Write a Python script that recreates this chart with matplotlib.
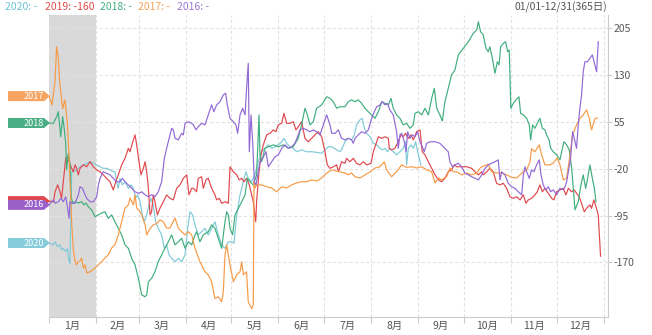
import matplotlib
matplotlib.use("Agg")
import matplotlib.pyplot as plt
import matplotlib.transforms as mtransforms
from matplotlib.patches import Polygon

plt.rcParams['font.family'] = ['Noto Sans CJK SC', 'DejaVu Sans']

# ---- data: (day of year, value) ----
s2020 = [(0,-139),(2.9,-142),(4,-137),(5.7,-145),(7.2,-142),(8.3,-150),(9.4,-147.5),(11,-153),(12.1,-147.5),(13.2,-169),(13.8,-171.5),(14.9,-25),(16,-25),(18.2,-22),(20.4,-17),(22.6,-14),(24.8,-11.5),(27,-9),(29.2,-11.5),(31.4,-14),(33.6,-17),(35.7,-19.5),(37.9,-19.5),(40.1,-22),(42.3,-25),(43.4,-25),(44.5,-41),(45.6,-51.5),(46.7,-35.5),(48.3,-46),(50,-41),(52.2,-51.5),(54,-46),(55.5,-51.5),(57,-67.5),(58.3,-62),(59.9,-73),(61.4,-94),(62.7,-105),(64.3,-94),(65.8,-78),(67.1,-67.5),(68.6,-78),(70.2,-105),(71.9,-115.5),(74.1,-126),(75.9,-147.5),(77.4,-142),(79,-158),(80.7,-163.5),(82.9,-169),(85.1,-163.5),(87.3,-169),(89.5,-158),(91.2,-115.5),(92.8,-89),(94.5,-94),(96,-110),(98.2,-126),(100.4,-121),(102.6,-115.5),(104.8,-126),(107,-115.5),(109.2,-105),(111.4,-126),(113.6,-142),(115.8,-147.5),(118,-137),(120.2,-137),(121.7,-139.5),(123.5,-94),(125.7,-62),(127.8,-41),(129.6,-25),(131.1,-35.5),(133.3,-41),(135.5,-30),(137.7,-9),(139.9,7),(142.1,12.5),(144.3,18),(146.5,12.5),(148.7,15),(150.9,18),(153.1,23),(154.6,28.5),(156.4,20.5),(158.6,15),(160.7,12.5),(162.9,7),(166.2,10),(169.5,7),(172.8,7),(176.1,6),(179.4,4.5),(181.6,10),(183.8,15),(186,15),(189.3,10),(191.4,7),(192.5,10),(194.7,23),(196.9,28.5),(199.1,26),(200.9,34),(202.4,50),(204.6,58),(206.1,60.5),(207.5,44.5),(209,36.5),(211.2,31),(213.4,20.5),(215.6,18),(217.8,12.5),(219.3,10),(221.1,12.5),(222.6,7),(224.3,12.5),(226.5,7),(228.7,2),(230.9,7),(233.1,12.5),(234.6,23),(235.3,-14),(236.4,12.5),(238.2,18),(239.7,12.5),(241.2,23),(243,2),(244.7,-14)]

s2019 = [(0,-72),(2.9,-73),(4,-57),(5.7,-46),(7.2,-57),(8.3,-67.5),(9.9,-30),(11,-3.5),(12.1,-1),(13.2,-9),(14.9,-19.5),(16,-25),(17.1,-14),(18.2,-19.5),(19.3,-30),(20.4,-19.5),(22.6,-14),(24.8,-17),(27,-9),(29.2,-17),(31.4,-22),(33.6,-25),(35.7,-30),(37.9,-35.5),(40.1,-41),(42.3,-54),(43.9,-41),(45.6,-30),(47.8,-14),(50,-3.5),(52.2,12.5),(53.3,7),(54.8,20.5),(56.6,34),(57.7,18),(59.2,-9),(60.5,-30),(62.1,-19.5),(63.2,-9),(64.3,-25),(65.4,-51.5),(66.5,-94),(67.5,-89),(68.6,-62),(69.7,-73),(71.3,-94),(73,-83.5),(75.2,-73),(77.4,-62),(79.6,-67.5),(81.8,-70),(84,-51.5),(86.2,-46),(88.4,-35.5),(90.6,-30),(92.1,-62),(93.9,-51.5),(95,-51.5),(97.1,-57),(98.2,-35.5),(100.4,-33),(101.5,-51.5),(103.3,-38),(104.8,-35.5),(107,-51.5),(109.2,-62),(110.3,-70),(112.1,-67.5),(113.6,-75.5),(115.8,-73),(118,-75.5),(119.1,-17),(121.3,-25),(123.5,-30),(125.2,-38),(126.8,-35.5),(128.3,-41),(130,-35.5),(131.8,-46),(133.3,-62),(134.4,-73),(136,-105),(136.6,-73),(138.2,-25),(139.5,2),(141,18),(143.2,34),(145.4,36.5),(147.6,42),(149.3,39),(150.9,50),(153.1,52.5),(154.6,68.5),(156.4,52.5),(158.6,52.5),(160.7,55),(162.5,42),(164,47),(166.2,55),(168.4,28.5),(170.6,23),(172.8,28.5),(175,34),(177.2,39),(179.4,31),(181.6,7),(183.1,-14),(184.9,-19.5),(187.1,-17),(189.3,-14),(190.4,-25),(192.5,-9),(194.7,-11.5),(195.8,-3.5),(198,-9),(200.2,-3.5),(202.4,-11.5),(204.6,-14),(206.8,-9),(209,-14),(211.9,-11.5),(213.4,7),(215.6,23),(216.7,31),(218.9,28.5),(221.1,31),(223.3,28.5),(223.9,12.5),(225.4,10),(227.6,12.5),(229.8,23),(231.6,34),(233.1,31),(234.6,36.5),(236.4,28.5),(238.2,34),(239.7,26),(241.9,39),(244.1,42),(245.6,7),(247.4,2),(249.6,-9),(251.8,-19.5),(254,-30),(256.2,-38),(258.3,-41),(260.5,-35.5),(262.7,-25),(264.9,-22),(266.7,-14),(268.2,-17),(271.5,-17),(274.8,-17),(278.1,-19.5),(280.3,-25),(282.5,-30),(284.7,-25),(285.7,-30),(288,-25),(290.1,-19.5),(292.3,-25),(294.5,-43.5),(296.7,-46),(298.9,-43.5),(301.1,-51.5),(303.3,-65),(305.5,-67.5),(307.7,-65),(309.9,-70),(312.1,-62),(313.8,-75.5),(315.4,-70),(317.5,-67.5),(319.7,-62),(321.3,-57),(323,-46),(324.6,-57),(326.3,-51.5),(328.5,-59.5),(330.7,-67.5),(332.2,-70),(334,-57),(336.2,-54),(338.4,-51.5),(340.1,-62),(341.7,-51.5),(343.9,-57),(345.6,-54),(347.1,-59.5),(348.9,-65),(350.4,-75.5),(352.2,-89),(353.7,-83.5),(355.9,-78),(357,-83.5),(358.5,-70),(359.9,-81),(361.4,-94),(362.9,-160)]

s2018 = [(0,53),(2.9,52.5),(5,63),(6.1,71),(7.7,31),(9,63),(10.1,42),(11,20),(11.6,-22),(12.7,4.5),(13.8,-11.5),(14.5,-65),(15.6,-75),(17.1,-73),(19.3,-75),(21.5,-73),(23,-78),(24.3,-75),(25.9,-81),(28,-86),(30.3,-97),(32.5,-94),(34.6,-91),(36.8,-89),(39,-99.5),(41.2,-94),(43.4,-105),(45.6,-115.5),(47.8,-126),(50,-142),(52.2,-147.5),(54.4,-163.5),(56.6,-174),(58.8,-195.5),(61,-222),(63.2,-225),(64.3,-222),(65.4,-201),(67.5,-195.5),(69.7,-185),(71.9,-169),(74.1,-158),(76.3,-147.5),(78.5,-137),(80.7,-126),(82.9,-142),(85.1,-137),(87.3,-131.5),(89.5,-147.5),(91.7,-137),(93.9,-142),(96.1,-126),(97.1,-121),(99.3,-137),(101.5,-126),(104.8,-121),(107,-110),(109.2,-115.5),(111.4,-131.5),(113.6,-147.5),(115.8,-105),(116.9,-89),(118,-94),(119.1,-115.5),(120.8,-126),(122.4,-94),(124.6,-83.5),(126.8,-73),(129,-62),(130.5,-35.5),(132.2,-41),(134.4,-46),(136.6,-30),(138.2,66),(138.8,2),(139.9,-9),(142.1,12.5),(144.3,15),(147.6,18),(150.9,15),(154.2,18),(157.5,12.5),(160.7,15),(164,28.5),(166.2,50),(168.4,76.5),(170,66),(171.7,50),(173.9,55),(176.1,76.5),(179.4,82),(182.7,95),(184.9,92.5),(187.1,87),(189.3,76.5),(191.4,79),(194.7,79),(196.9,87),(199.1,90),(201.3,87),(203.5,90),(205.7,84.5),(207.9,76.5),(210.1,71),(212.3,66),(214.5,60.5),(216.7,71),(218.9,87),(221.1,84.5),(223.3,82),(225,92.5),(226.5,76.5),(228.7,66),(230.9,60.5),(233.1,50),(235.3,52.5),(237.5,44.5),(239.7,50),(240.8,68.5),(243,71),(245.2,66),(247.4,76.5),(249.6,66),(251.8,92.5),(253.5,108.5),(255.1,76.5),(257.2,66),(258.8,56),(260.5,87),(262.7,108.5),(264.9,130),(267.1,138),(269.3,162),(272.6,172.5),(275.9,183),(279.2,196.5),(281.4,202),(282.5,215),(284,199),(285.7,194),(287.5,172.5),(289,167),(290.1,175),(291.7,156.5),(293.4,132.5),(295,151),(296.1,146),(297.2,175),(298.9,180.5),(300.4,183),(301.8,167),(302.8,170),(303.9,76.5),(305.5,84.5),(307.2,90),(309.2,95),(310.3,68.5),(312.1,66),(314.3,60.5),(316,50),(316.9,26),(318.2,50),(319.7,44.5),(321.3,52.5),(323,60.5),(324.6,44.5),(326.3,42),(327.4,34),(329,26),(330.1,12.5),(331.8,7),(334,2),(336.2,-6),(337.3,7),(338.8,23),(340.6,18),(342.3,10),(343.9,-19.5),(346.1,-86),(348.2,-73),(350,-46),(351.5,-30),(353.1,-51.5),(354.4,-35.5),(355.9,-14),(357.5,-35.5),(358.8,-51.5),(359.9,-73)]

s2017 = [(0,96),(2,82),(4,120),(5,175),(6,160),(7,119),(9,76),(10.5,90),(12,55),(13,10),(14,-50),(15,-110),(16,-150),(17,-166),(18,-174),(19.3,-169),(20.4,-168),(21.5,-163),(22.6,-179),(23.7,-174),(24.8,-187),(27,-185),(30.3,-179),(34.6,-169),(36.8,-163),(39,-158),(41.2,-147),(43.4,-142),(45.6,-126),(47.8,-105),(50,-83),(52.2,-78),(53.3,-67),(55.5,-78),(56.6,-62),(57.7,-83),(59.9,-89),(61,-94),(63.2,-110),(64.3,-126),(66.5,-116),(68.6,-110),(70.8,-108),(73,-102),(75.2,-105),(77.4,-115),(79.6,-115),(82.9,-99),(85.1,-115),(87.3,-121),(89.5,-126),(91.7,-121),(93.9,-126),(96,-147),(99.3,-169),(102.6,-185),(104.8,-190),(107,-201),(109.2,-228),(111.4,-225),(113.6,-233),(114.7,-217),(115.8,-158),(116.9,-142),(119.1,-174),(121.3,-201),(123.5,-190),(125.7,-185),(126.8,-169),(127.9,-190),(130,-185),(131.1,-233),(133.3,-244),(134.4,-238),(134.9,-41),(135.5,-51),(136.6,-46),(139.9,-46),(143.2,-49),(146.5,-51),(149.8,-57),(153.1,-49),(156.4,-51),(159.6,-46),(162.9,-43),(166.2,-41),(169.5,-41),(172.8,-38),(176.1,-40),(179.4,-35),(182.7,-27),(186,-22),(189.3,-24),(191.4,-25),(194.7,-27),(196.9,-30),(199.1,-27),(201.3,-33),(204.6,-35),(207.9,-30),(211.2,-25),(214.5,-19),(217.8,-17),(220.6,-9),(222.2,-22),(225.4,-33),(228.7,-25),(232,-14),(235.3,-18),(238.6,-17),(241.9,-19),(245.2,-17),(248.5,-22),(251.8,-25),(254,-43),(256.2,-35),(258.3,-38),(261.6,-33),(263.8,-19),(266,-25),(268.2,-25),(271.5,-30),(274.8,-27),(278.1,-30),(281.4,-27),(284,-18),(286.8,-15),(289,-13),(291.2,-25),(294.5,-27),(297.8,-27),(301.1,-30),(304.4,-34),(307.7,-35),(309.9,-30),(312.1,-25),(314.3,-22),(316.5,-9),(317.5,12),(319.7,7),(322.6,18),(324.1,2),(326.3,-14),(329.6,-14),(331.8,-11),(334.4,-3),(336.2,-14),(338.4,-38),(340.6,-35),(342.8,2),(344.5,34),(347.1,50),(349.3,60),(351.5,66),(353.7,74),(355.5,60),(357,42),(359.2,60),(360.7,61)]

s2016 = [(0,-78),(2.9,-70),(4,-75.5),(6.1,-73),(7.9,-67.5),(9.4,-73),(11,-65),(12.3,-83.5),(13.2,-99.5),(13.8,-73),(14.9,-75.5),(17.1,-75.5),(19.3,-62),(20.4,-49),(22,-51.5),(23.3,-59.5),(24.8,-67.5),(27,-73),(29.2,-73),(31.4,-65),(32.5,-46),(33.6,-35.5),(35.7,-25),(37.9,-27.5),(40.1,-30),(42.3,-35.5),(44.5,-41),(46.7,-41),(48.3,-35.5),(50,-41),(52.2,-46),(54.4,-51.5),(56.6,-57),(58.8,-59.5),(61,-57),(63.2,-62),(65.4,-65),(67.5,-62),(69.7,-65),(71.9,-57),(74.1,-41),(75.9,-3.5),(77.4,12.5),(79.6,34),(80.7,44.5),(81.8,42),(82.9,28.5),(85.1,26),(87.3,36.5),(88.4,34),(89.5,52.5),(91.7,55),(93.9,52.5),(95,50),(96.7,42),(98.2,47),(100.4,52.5),(102.6,50),(104.8,66),(107,82),(108.5,71),(110.3,82),(112.5,87),(114.7,98),(116.2,100.5),(117.3,82),(119.1,60.5),(121.3,55),(123,50),(124.1,36.5),(125.7,66),(127.4,76.5),(129,66),(130,108.5),(131.1,148.5),(131.8,7),(132.9,66),(134,23),(135.1,-41),(136.2,-46),(137.3,-30),(138.8,-9),(140.6,-3.5),(142.8,7),(144.3,-17),(146.5,-9),(148.7,-1),(150.9,2),(153.1,12.5),(155.3,18),(157.5,12.5),(159.6,15),(161.8,20.5),(164,34),(165.1,42),(167.3,44.5),(169.5,42),(171.7,39),(173.9,42),(176.1,39),(178.3,34),(180.5,50),(182.7,66),(184.9,50),(186,36.5),(188.2,36.5),(190.4,42),(192.5,28.5),(194.7,26),(196.9,28.5),(199.1,26),(200.2,20.5),(201.3,28.5),(203.5,34),(205.7,39),(207.9,36.5),(210.1,42),(212.3,60.5),(214,71),(215.6,79),(217.8,82),(219.3,87),(221.1,82),(222.6,84.5),(224.3,74),(226.5,66),(228.7,39),(229.8,12.5),(230.9,34),(232,36.5),(233.8,23),(234.9,7),(236,39),(237.5,28.5),(239,34),(240.8,31),(242.5,39),(244.1,23),(245.6,15),(246.9,7),(248.5,20.5),(250.7,23),(254,23),(257.2,20.5),(260.5,12.5),(262.7,7),(263.8,-9),(265.4,-17),(267.1,-14),(269.3,-11.5),(271.5,-17),(273.7,-27.5),(275.9,-30),(278.1,-33),(280.3,-35.5),(282.5,-38),(284.7,-30),(286.8,-20),(289,-14),(291.2,-11.5),(293.4,-9),(295.6,-6),(296.7,-38),(297.8,-25),(300,-30),(302.2,-43.5),(304.4,-49),(306.6,-51.5),(308.8,-57),(311,-62),(312.1,-30),(313.2,-17),(314.3,-25),(316,-35.5),(317.5,-22),(319.1,-25),(320.8,-14),(322.6,-6),(323.7,-30),(325.2,-46),(326.8,-54),(328.5,-49),(330.1,-57),(331.8,-54),(334,-62),(336.2,-51.5),(338.4,-54),(339.5,-49),(340.6,-41),(341.7,-25),(343.2,-3.5),(344.5,39),(345.6,28.5),(347.1,12.5),(348.2,50),(349.3,76.5),(350.4,98),(351.5,135),(352.6,151),(354.2,151),(355.9,156.5),(357.5,162),(359.2,146),(360.3,135),(361.4,183)]

years = ['2020', '2019', '2018', '2017', '2016']
latest = ['-', '-160', '-', '-', '-']
line_colors = ['#7fcad8', '#e0474c', '#3fae7e', '#f79a45', '#9268d6']
tag_colors = ['#86ccdb', '#e0474c', '#4aae84', '#f7a462', '#9a5fc8']
text_colors = ['#6bc3d4', '#e04a4a', '#3fae7e', '#f2a25a', '#9b78d6']
series = [s2020, s2019, s2018, s2017, s2016]

month_starts = [0, 31, 59, 90, 120, 151, 181, 212, 243, 273, 304, 334, 365]
month_labels = ['1月', '2月', '3月', '4月', '5月', '6月', '7月', '8月', '9月', '10月', '11月', '12月']
y_ticks = [205, 130, 55, -20, -95, -170]

W, H = 652, 335
fig = plt.figure(figsize=(W / 100, H / 100), dpi=100)
ax = fig.add_axes([49 / W, 1 - 317 / H, 559 / W, 302 / H])
ax.set_xlim(0, 367.8)
ax.set_ylim(-257.4, 225.8)

# January band
ax.axvspan(month_starts[0], month_starts[1], color='#d9d9d9', lw=0, zorder=0)

# grid
for m in month_starts[1:]:
    ax.axvline(m, color='#e2e2e2', lw=0.8, ls=(0, (3, 2)), zorder=0.5)
for t in y_ticks:
    ax.axhline(t, color='#e2e2e2', lw=0.8, ls=(0, (3, 2)), zorder=0.5)

# series lines
for s, c in zip(series, line_colors):
    xs = [p[0] for p in s]
    ys = [p[1] for p in s]
    ax.plot(xs, ys, color=c, lw=0.85, zorder=3)

# axes styling
for side in ['top', 'left']:
    ax.spines[side].set_visible(False)
for side in ['right', 'bottom']:
    ax.spines[side].set_color('#cccccc')
    ax.spines[side].set_linewidth(0.8)

ax.yaxis.tick_right()
ax.set_yticks(y_ticks)
ax.set_yticklabels([str(t) for t in y_ticks])
ax.tick_params(axis='y', length=3, color='#cccccc', labelsize=7.5,
               labelcolor='#555555', pad=1)

ax.set_xticks(month_starts)
ax.set_xticklabels([])
ax.set_xticks([(a + b) / 2 for a, b in zip(month_starts[:-1], month_starts[1:])], minor=True)
ax.set_xticklabels(month_labels, minor=True)
ax.tick_params(axis='x', which='major', length=4, color='#cccccc')
ax.tick_params(axis='x', which='minor', length=0, labelsize=7.5,
               labelcolor='#555555', pad=3)

# start-value tags at the left edge; the 2019 tag sits under the 2016 one
trans = mtransforms.blended_transform_factory(fig.transFigure, ax.transData)
x0, x1, tip = 8 / W, 44 / W, 50 / W
h = 8.0
for i in [1, 0, 2, 3, 4]:
    yv = series[i][0][1]
    poly = Polygon([(x0, yv - h), (x1, yv - h), (tip, yv), (x1, yv + h), (x0, yv + h)],
                   closed=True, transform=trans, facecolor=tag_colors[i],
                   edgecolor='none', clip_on=False, zorder=5)
    ax.add_patch(poly)
    if i != 1:
        ax.text(34 / W, yv, years[i], transform=trans, ha='center', va='center',
                color='white', fontsize=6.5, clip_on=False, zorder=6)

# header
xpos = [5, 45, 100, 138, 177]
for i in range(5):
    fig.text(xpos[i] / W, 1 - 7 / H, f'{years[i]}: {latest[i]}', color=text_colors[i],
             fontsize=7.5, ha='left', va='center')
fig.text(607 / W, 1 - 7 / H, '01/01-12/31(365日)', color='#555555', fontsize=7.5,
         ha='right', va='center')

fig.savefig('out.png', dpi=100)
